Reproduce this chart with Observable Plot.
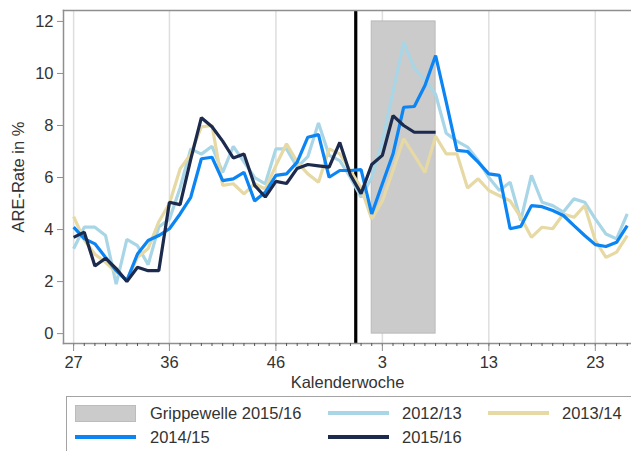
<!DOCTYPE html>
<html>
<head>
<meta charset="utf-8">
<script src="https://cdn.jsdelivr.net/npm/d3@7"></script>
<script src="https://cdn.jsdelivr.net/npm/@observablehq/plot@0.6"></script>
<style>
  html, body { margin: 0; padding: 0; background: #fff; overflow: hidden; width: 631px; height: 451px; }
  #wrap { position: relative; width: 631px; height: 451px; font-family: "Liberation Sans", Arial, Helvetica, sans-serif; color: #333; }
  #legend { position: absolute; left: 66px; top: 396px; width: 640px; height: 90px; border: 1px solid #a3a3a3; box-sizing: border-box; }
  .sw { position: absolute; }
  .lab { position: absolute; font-size: 16.5px; line-height: 20px; white-space: nowrap; color: #333; }
</style>
</head>
<body>
<div id="wrap"><div id="chart"></div><div id="legend"></div></div>
<script>
// ---- data ----
const weeks = [27,28,29,30,31,32,33,34,35,36,37,38,39,40,41,42,43,44,45,46,47,48,49,50,51,52,53,
               1,2,3,4,5,6,7,8,9,10,11,12,13,14,15,16,17,18,19,20,21,22,23,24,25,26];
const majorWeeks = [27, 36, 46, 3, 13, 23];
const yTicks = [0, 2, 4, 6, 8, 10, 12];

const seasons = ["2012/13", "2013/14", "2014/15", "2015/16"];
const seasonColors = ["#a8d6e6", "#e6d9a4", "#0b84f4", "#1b2a4d"];

const rate2012_13 = [3.26,4.09,4.09,3.77,1.9,3.62,3.38,2.65,4.1,4.4,5.6,7.1,6.9,7.2,6.2,7.2,6.6,6.0,5.76,7.1,7.1,6.4,6.8,8.1,6.85,6.65,6.0,
                     5.24,6.0,7.4,9.3,11.2,10.2,9.75,9.2,7.7,7.4,7.17,6.65,6.0,5.5,5.82,4.35,6.08,5.05,4.92,4.67,5.18,5.05,4.41,3.83,3.64,4.6];
const rate2013_14 = [4.5,3.6,3.05,2.74,2.36,2.04,2.93,3.27,4.3,5.0,6.33,6.9,7.95,8.0,5.7,5.76,5.37,5.76,5.56,6.46,7.3,6.59,6.14,5.82,7.1,6.91,6.27,
                     5.6,4.41,5.1,6.27,7.49,6.85,6.2,7.58,6.91,6.91,5.6,5.95,5.5,5.3,5.1,4.47,3.7,4.09,4.03,4.6,4.47,4.92,3.58,2.93,3.13,3.77];
const rate2014_15 = [4.09,3.65,3.45,2.93,2.42,2.04,3.06,3.58,3.77,4.03,4.6,5.24,6.72,6.78,5.88,5.95,6.2,5.1,5.43,6.08,6.14,6.59,7.55,7.65,6.01,6.27,6.27,
                     6.3,4.6,5.76,6.91,8.7,8.73,9.54,10.69,8.9,7.04,7.0,6.59,6.14,6.08,4.03,4.12,4.92,4.88,4.73,4.54,4.15,3.77,3.42,3.35,3.51,4.15];
const rate2015_16 = [3.7,3.9,2.6,2.9,2.5,2.0,2.55,2.42,2.42,5.05,4.96,6.7,8.3,7.95,7.4,6.75,6.9,5.7,5.25,5.85,5.77,6.35,6.5,6.45,6.4,7.35,6.1,
                     5.38,6.5,6.85,8.38,8.0,7.74,7.74,7.74];

const fluWaveLabel = "Grippewelle 2015/16";
const fluWaveStartWeek = 2;
const fluWaveEndWeek = 8;
const fluWaveTop = 12;

const yLabel = "ARE-Rate in %";
const xLabel = "Kalenderwoche";

// ---- derived ----
const idx = w => weeks.indexOf(w);
const allIdx = weeks.map((w, i) => i);
const majorIdx = majorWeeks.map(idx);
const seriesValues = [rate2012_13, rate2013_14, rate2014_15, rate2015_16];
const table = seasons.flatMap((s, k) => seriesValues[k].map((v, i) => ({season: s, i, v})));
const wave = [{x1: idx(fluWaveStartWeek), x2: idx(fluWaveEndWeek), y1: 0, y2: fluWaveTop}];
const yearBoundary = [(idx(53) + idx(1)) / 2];

const font = '"Liberation Sans", Arial, Helvetica, sans-serif';
const axisGray = "#8f8f8f";

const lineMarks = seasons.map((s, k) =>
  Plot.line(table.filter(d => d.season === s), {
    x: "i", y: "v", stroke: seasonColors[k], strokeWidth: 3.2, strokeLinejoin: "miter", strokeLinecap: "butt"
  })
);

const chart = Plot.plot({
  width: 631,
  height: 395,
  marginLeft: 63,
  marginRight: 0,
  marginTop: 10,
  marginBottom: 52,
  style: {fontFamily: font, fontSize: "16.5px", color: "#333", background: "transparent", overflow: "visible"},
  x: {domain: [-0.95, 52.4], axis: null},
  y: {domain: [-0.38, 12.42], axis: null},
  marks: [
    Plot.gridX(majorIdx, {stroke: "#dedede", strokeOpacity: 1, strokeWidth: 1.5}),
    Plot.rect(wave, {x1: "x1", x2: "x2", y1: "y1", y2: "y2", fill: "#cbcbcb", stroke: "#b9b9b9"}),
    Plot.ruleX(yearBoundary, {stroke: "#000", strokeWidth: 3.2}),
    ...lineMarks,
    Plot.frame({anchor: "top", stroke: axisGray, strokeWidth: 1.5}),
    Plot.frame({anchor: "left", stroke: axisGray, strokeWidth: 1.5}),
    Plot.frame({anchor: "bottom", stroke: axisGray, strokeWidth: 1.5}),
    Plot.axisX(allIdx, {tickSize: 3, tickFormat: () => "", label: null, stroke: "#555"}),
    Plot.axisX(majorIdx, {
      tickSize: 8, tickPadding: 5, stroke: axisGray, tickFormat: i => String(weeks[i]),
      label: xLabel, labelAnchor: "center", labelOffset: 44, labelArrow: false, fill: "#333"
    }),
    Plot.axisY(yTicks, {
      tickSize: 6, tickPadding: 4, stroke: axisGray,
      label: yLabel, labelAnchor: "center", labelOffset: 51, labelArrow: false, fill: "#333"
    })
  ]
});
document.getElementById("chart").appendChild(chart);

// ---- legend (below the SVG) ----
const legendItems = [
  {label: fluWaveLabel, type: "rect", color: "#cbcbcb"},
  ...seasons.map((s, k) => ({label: s, type: "line", color: seasonColors[k]}))
];
const colSwatchX = [75, 328, 488];
const colTextX = [150, 402, 562];
const rowY = [413, 437];
const wrap = document.getElementById("wrap");
legendItems.forEach((it, n) => {
  const col = n % 3, row = Math.floor(n / 3);
  const sw = document.createElement("div");
  sw.className = "sw";
  if (it.type === "rect") {
    Object.assign(sw.style, {left: colSwatchX[col] + "px", top: (rowY[row] - 8) + "px", width: "61px", height: "17px",
      background: it.color, border: "1px solid #bcbcbc", boxSizing: "border-box"});
  } else {
    Object.assign(sw.style, {left: colSwatchX[col] + "px", top: (rowY[row] - 2) + "px", width: "61px", height: "4px", background: it.color});
  }
  wrap.appendChild(sw);
  const lb = document.createElement("div");
  lb.className = "lab";
  lb.textContent = it.label;
  Object.assign(lb.style, {left: colTextX[col] + "px", top: (rowY[row] - 10) + "px"});
  wrap.appendChild(lb);
});
</script>
</body>
</html>
